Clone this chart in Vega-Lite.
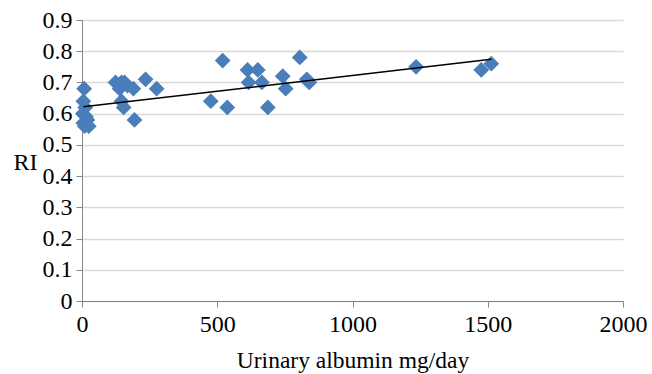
{
  "$schema": "https://vega.github.io/schema/vega-lite/v6.json",
  "autosize": {"type": "none"},
  "padding": {"left": 82, "top": 20, "right": 29, "bottom": 73},
  "width": 541,
  "height": 281,
  "background": "white",
  "config": {
    "view": {"stroke": null},
    "font": "Liberation Serif"
  },
  "datasets": {
    "pts": [
      {"alb": 8, "ri": 0.68}, {"alb": 5, "ri": 0.64}, {"alb": 12, "ri": 0.62}, {"alb": 3, "ri": 0.6},
      {"alb": 15, "ri": 0.59}, {"alb": 20, "ri": 0.58}, {"alb": 5, "ri": 0.57}, {"alb": 10, "ri": 0.56}, {"alb": 25, "ri": 0.56},
      {"alb": 124, "ri": 0.7}, {"alb": 146, "ri": 0.7}, {"alb": 157, "ri": 0.7}, {"alb": 139, "ri": 0.68},
      {"alb": 168, "ri": 0.69}, {"alb": 190, "ri": 0.68}, {"alb": 146, "ri": 0.64}, {"alb": 154, "ri": 0.62},
      {"alb": 194, "ri": 0.58}, {"alb": 235, "ri": 0.71}, {"alb": 276, "ri": 0.68},
      {"alb": 476, "ri": 0.64}, {"alb": 520, "ri": 0.77}, {"alb": 537, "ri": 0.62}, {"alb": 612, "ri": 0.74},
      {"alb": 616, "ri": 0.7}, {"alb": 650, "ri": 0.74}, {"alb": 665, "ri": 0.7}, {"alb": 687, "ri": 0.62},
      {"alb": 742, "ri": 0.72}, {"alb": 753, "ri": 0.68}, {"alb": 805, "ri": 0.78}, {"alb": 831, "ri": 0.71},
      {"alb": 840, "ri": 0.7}, {"alb": 1235, "ri": 0.75}, {"alb": 1476, "ri": 0.74}, {"alb": 1513, "ri": 0.76}
    ],
    "trend": [{"alb": 5, "ri": 0.622}, {"alb": 1513, "ri": 0.774}]
  },
  "encoding": {
    "x": {
      "field": "alb", "type": "quantitative",
      "scale": {"domain": [0, 2000], "nice": false, "zero": true},
      "axis": {
        "values": [0, 500, 1000, 1500, 2000], "format": "d", "grid": false,
        "domainColor": "#868686", "tickColor": "#868686", "tickSize": 6,
        "labelFont": "Liberation Serif", "labelFontSize": 24, "labelColor": "#000000", "labelPadding": 5,
        "labelFlush": false, "labelOverlap": false,
        "title": "Urinary albumin mg/day", "titleFont": "Liberation Serif", "titleFontSize": 23.5,
        "titleFontWeight": "normal", "titleColor": "#000000", "titlePadding": 12
      }
    },
    "y": {
      "field": "ri", "type": "quantitative",
      "scale": {"domain": [0, 0.9], "nice": false},
      "axis": {
        "values": [0, 0.1, 0.2, 0.3, 0.4, 0.5, 0.6, 0.7, 0.8, 0.9], "format": "~g",
        "grid": true, "gridColor": "#D9D9D9", "gridWidth": 1.3,
        "domainColor": "#868686", "tickColor": "#868686", "tickSize": 6,
        "labelFont": "Liberation Serif", "labelFontSize": 24, "labelColor": "#000000", "labelPadding": 4,
        "labelOverlap": false,
        "title": "RI", "titleFont": "Liberation Serif", "titleFontSize": 24, "titleFontWeight": "normal",
        "titleColor": "#000000", "titleAngle": 0, "titleAlign": "left", "titleBaseline": "middle",
        "titleX": -69, "titleY": 142
      }
    }
  },
  "layer": [
    {
      "data": {"name": "pts"},
      "mark": {"type": "point", "shape": "diamond", "filled": true, "size": 250, "color": "#4A7EBB", "opacity": 1}
    },
    {
      "data": {"name": "trend"},
      "mark": {"type": "line", "color": "#000000", "strokeWidth": 1.5}
    }
  ]
}
